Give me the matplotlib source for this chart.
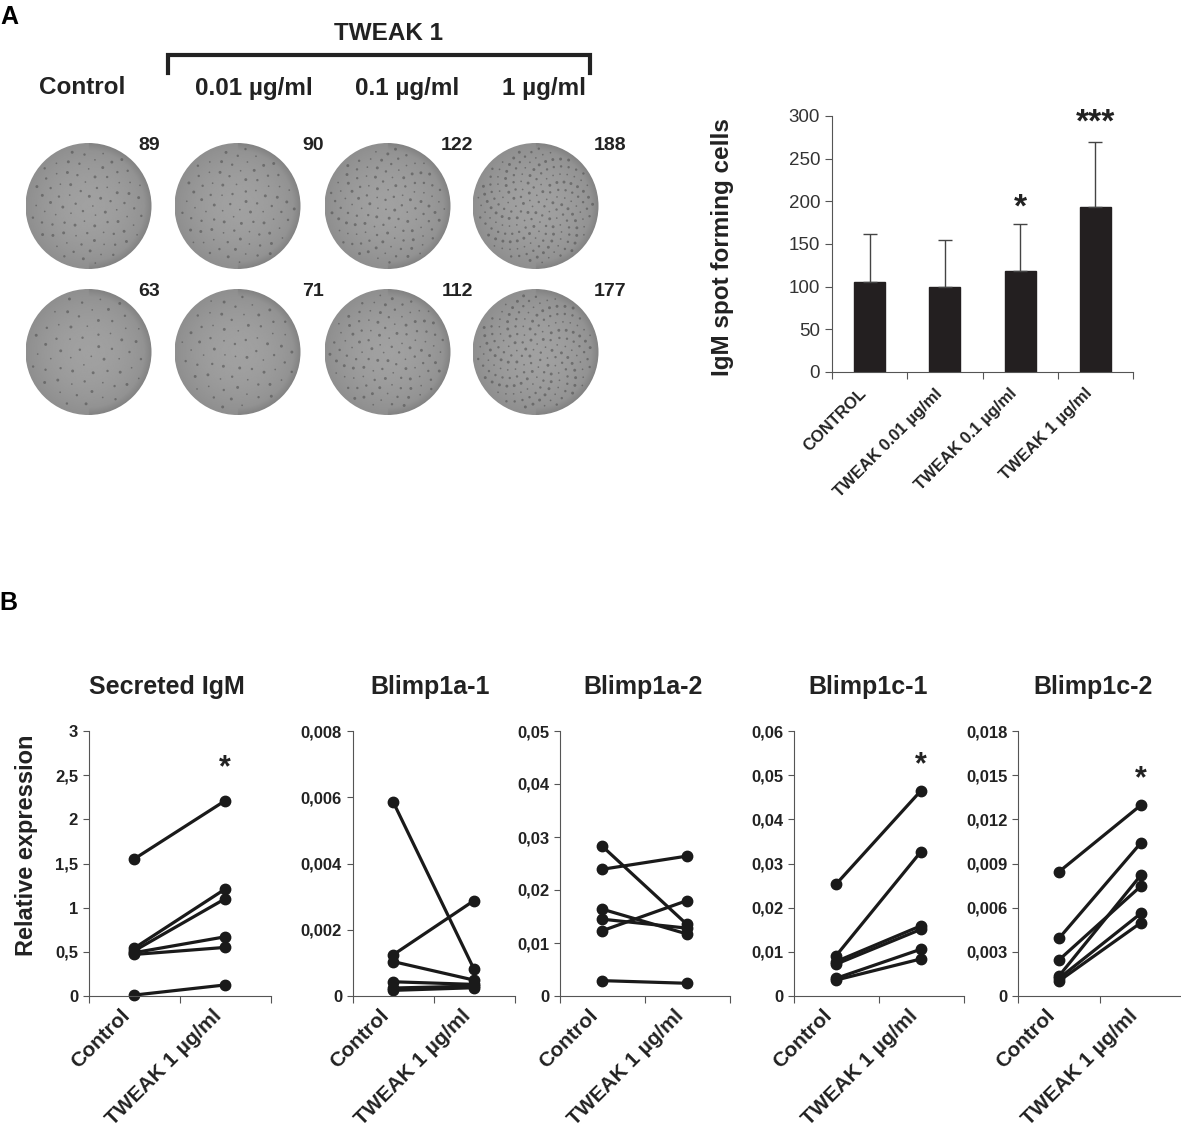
import numpy as np
import matplotlib
matplotlib.use('Agg')
import matplotlib.pyplot as plt
from matplotlib.patches import Circle

# ---- data ----
dose_titles = ['Control', '0.01 µg/ml', '0.1 µg/ml', '1 µg/ml']
well_counts_top = [89, 90, 122, 188]
well_counts_bottom = [63, 71, 112, 177]

bar_labels = ['CONTROL', 'TWEAK 0.01 µg/ml', 'TWEAK 0.1 µg/ml', 'TWEAK 1 µg/ml']
bar_means = [105, 100, 118, 193]
bar_sd = [57, 55, 55, 77]
bar_stars = ['', '', '*', '***']
bar_star_y = [0, 0, 192, 292]

pair_labels = ['Control', 'TWEAK 1 µg/ml']
titles = ['Secreted IgM', 'Blimp1a-1', 'Blimp1a-2', 'Blimp1c-1', 'Blimp1c-2']

igm_ctrl = [1.55, 0.54, 0.51, 0.49, 0.47, 0.01]
igm_tweak = [2.21, 1.21, 1.10, 0.67, 0.55, 0.125]
b1a1_ctrl = [0.00587, 0.00124, 0.00104, 0.00043, 0.00024, 0.00017]
b1a1_tweak = [0.00081, 0.00288, 0.00048, 0.00035, 0.00030, 0.00025]
b1a2_ctrl = [0.0283, 0.0239, 0.0164, 0.0145, 0.0123, 0.0029]
b1a2_tweak = [0.0135, 0.0264, 0.0117, 0.0128, 0.0180, 0.0024]
b1c1_ctrl = [0.0253, 0.0091, 0.0078, 0.0072, 0.0040, 0.0036]
b1c1_tweak = [0.0465, 0.0327, 0.0159, 0.0151, 0.0106, 0.0084]
b1c2_ctrl = [0.00844, 0.00392, 0.00245, 0.00136, 0.00120, 0.00102]
b1c2_tweak = [0.01297, 0.01041, 0.00747, 0.00822, 0.00562, 0.00498]

ymax = [3, 0.008, 0.05, 0.06, 0.018]
ytick_vals = [[0, 0.5, 1, 1.5, 2, 2.5, 3],
              [0, 0.002, 0.004, 0.006, 0.008],
              [0, 0.01, 0.02, 0.03, 0.04, 0.05],
              [0, 0.01, 0.02, 0.03, 0.04, 0.05, 0.06],
              [0, 0.003, 0.006, 0.009, 0.012, 0.015, 0.018]]
ytick_text = [['0', '0,5', '1', '1,5', '2', '2,5', '3'],
              ['0', '0,002', '0,004', '0,006', '0,008'],
              ['0', '0,01', '0,02', '0,03', '0,04', '0,05'],
              ['0', '0,01', '0,02', '0,03', '0,04', '0,05', '0,06'],
              ['0', '0,003', '0,006', '0,009', '0,012', '0,015', '0,018']]
star_y = [2.58, None, None, 0.0522, 0.0147]

W, H = 1181, 1129
plt.rcParams['font.family'] = ['Liberation Sans', 'DejaVu Sans']
fig = plt.figure(figsize=(W / 100, H / 100), dpi=100)


def px_axes(x0, y0, x1, y1):
    return fig.add_axes([x0 / W, 1 - y1 / H, (x1 - x0) / W, (y1 - y0) / H])


# canvas in pixel coords for panel A wells and labels
cv = px_axes(0, 0, W, H)
cv.set_xlim(0, W)
cv.set_ylim(H, 0)
cv.axis('off')

cv.text(9, 17, 'A', fontsize=18, fontweight='bold', ha='center', va='center')
cv.text(8, 603, 'B', fontsize=18, fontweight='bold', ha='center', va='center')
cv.text(389, 33, 'TWEAK 1', fontsize=17.5, fontweight='bold', ha='center', va='center', color='#222')
cv.plot([168, 168, 590, 590], [73, 55, 55, 73], color='#222', lw=3, solid_joinstyle='miter')
for cx, t in zip([82, 254, 407, 544], dose_titles):
    cv.text(cx, 88, t, fontsize=17.5, fontweight='bold', ha='center', va='center', color='#222')

well_x = [88.5, 237.5, 387.5, 535.5]
well_y = [206, 352]
num_right = [160, 324, 473, 626]
R = 63
yy, xx = np.mgrid[-1:1:200j, -1:1:200j]
rr = np.sqrt(xx ** 2 + yy ** 2)
shade = 0.56 + 0.07 * (1 - rr ** 2) - 0.05 * np.clip((rr - 0.88) / 0.12, 0, 1) * (xx > 0)
golden = np.pi * (3 - np.sqrt(5))
for row, counts in enumerate([well_counts_top, well_counts_bottom]):
    for k, n in enumerate(counts):
        cx, cy = well_x[k], well_y[row]
        im = cv.imshow(shade, cmap='gray', vmin=0, vmax=1, interpolation='bilinear',
                       extent=[cx - R, cx + R, cy + R, cy - R], zorder=1)
        clip = Circle((cx, cy), R, transform=cv.transData)
        im.set_clip_path(clip)
        i = np.arange(n)
        r = 0.92 * R * np.sqrt((i + 0.5) / n)
        th = i * golden + k + row
        cv.scatter(cx + r * np.cos(th), cy + r * np.sin(th), s=1.5 + (i % 3) * 1.5,
                   color='#4a4a4a', alpha=0.55, lw=0, zorder=2)
        cv.text(num_right[k], well_y[row] - 61, str(n), fontsize=14, fontweight='bold',
                ha='right', va='center', color='#222')
cv.set_xlim(0, W)
cv.set_ylim(H, 0)

# ---- bar chart ----
axA = px_axes(832, 116, 1133, 372)
axA.set_facecolor('none')
xb = np.arange(len(bar_means)) + 0.5
axA.bar(xb, bar_means, width=0.41, color='#231f20', edgecolor='#231f20')
axA.errorbar(xb, bar_means, yerr=[np.zeros(len(bar_sd)), bar_sd], fmt='none',
             ecolor='#444', elinewidth=1, capsize=5, capthick=1)
axA.set_xlim(0, 4)
axA.set_ylim(0, 300)
axA.set_yticks(range(0, 301, 50))
axA.set_xticks(range(5))
axA.set_xticklabels([])
axA.set_xticks(xb, minor=True)
axA.set_xticklabels(bar_labels, minor=True, rotation=45, ha='right', va='top',
                    fontsize=12, fontweight='bold', color='#222')
axA.tick_params(axis='x', which='minor', length=0, pad=10)
axA.tick_params(axis='x', which='major', length=5, color='#555')
axA.tick_params(axis='y', length=5, color='#555', labelsize=13.5, labelcolor='#333')
for s in ['top', 'right']:
    axA.spines[s].set_visible(False)
for s in ['left', 'bottom']:
    axA.spines[s].set_color('#555')
for x, st, y in zip(xb, bar_stars, bar_star_y):
    if st:
        axA.text(x, y, st, fontsize=24, fontweight='bold', ha='center', va='center',
                 color='#222', clip_on=False)
fig.text(722 / W, 1 - 247 / H, 'IgM spot forming cells', rotation=90, ha='center',
         va='center', fontsize=17.5, fontweight='bold', color='#222')

# ---- panel B ----
ctrl_sets = [igm_ctrl, b1a1_ctrl, b1a2_ctrl, b1c1_ctrl, b1c2_ctrl]
tweak_sets = [igm_tweak, b1a1_tweak, b1a2_tweak, b1c1_tweak, b1c2_tweak]
ax_lr = [(88.5, 270.5), (352.5, 514.5), (559.5, 729.5), (793.5, 963.5), (1018, 1182)]
title_x = [167, 430, 643, 868, 1093]
for j in range(5):
    ax = px_axes(ax_lr[j][0], 731, ax_lr[j][1], 996)
    ax.set_facecolor('none')
    for a, b in zip(ctrl_sets[j], tweak_sets[j]):
        ax.plot([0.5, 1.5], [a, b], color='#1a1a1a', lw=2.3, marker='o', ms=7.5,
                clip_on=False)
    ax.set_xlim(0, 2)
    ax.set_ylim(0, ymax[j])
    ax.set_yticks(ytick_vals[j])
    ax.set_yticklabels(ytick_text[j], fontsize=12, fontweight='bold', color='#222')
    ax.set_xticks([0, 1, 2])
    ax.set_xticklabels([])
    ax.set_xticks([0.5, 1.5], minor=True)
    ax.set_xticklabels(pair_labels, minor=True, rotation=45, ha='right', va='top',
                       fontsize=15, fontweight='bold', color='#222')
    ax.tick_params(axis='x', which='minor', length=0, pad=7)
    ax.tick_params(axis='x', which='major', length=5, color='#555')
    ax.tick_params(axis='y', length=4, color='#555')
    for s in ['top', 'right']:
        ax.spines[s].set_visible(False)
    for s in ['left', 'bottom']:
        ax.spines[s].set_color('#555')
    if star_y[j] is not None:
        ax.text(1.5, star_y[j], '*', fontsize=22, fontweight='bold', ha='center',
                va='center', color='#222', clip_on=False)
    fig.text(title_x[j] / W, 1 - 687 / H, titles[j], ha='center', va='center',
             fontsize=18, fontweight='bold', color='#222')

fig.text(27 / W, 1 - 845 / H, 'Relative expression', rotation=90, ha='center',
         va='center', fontsize=17, fontweight='bold', color='#222')

fig.savefig('out.png', dpi=100)
